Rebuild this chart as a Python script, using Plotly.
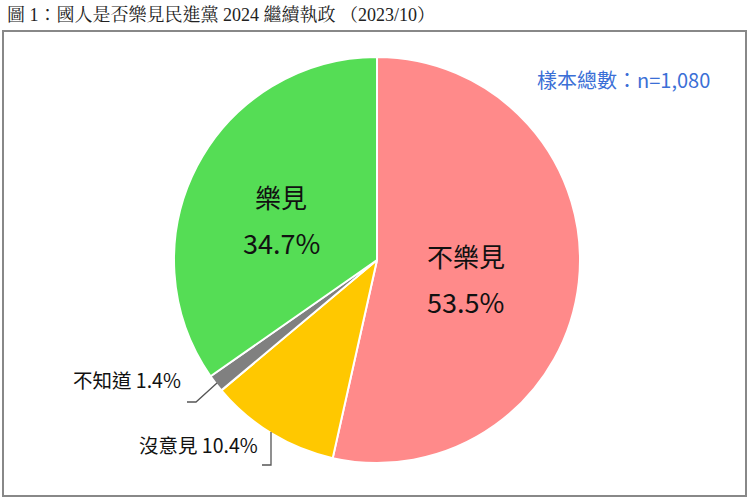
import plotly.graph_objects as go

# 國人是否樂見民進黨 2024 繼續執政 (2023/10)
labels = ['不樂見', '沒意見', '不知道', '樂見']
values = [53.5, 10.4, 1.4, 34.7]
colors = ['#FF8A8A', '#FFC800', '#808080', '#55DD55']
sample_n = '1,080'

W, H = 750, 498
font_cjk = 'Noto Sans CJK TC, Noto Sans, sans-serif'

fig = go.Figure()
fig.add_trace(go.Pie(
    labels=labels,
    values=values,
    sort=False,
    direction='clockwise',
    marker=dict(colors=colors, line=dict(color='white', width=2)),
    textinfo='none',
    hoverinfo='label+percent',
    showlegend=False,
    domain=dict(x=[174 / W, 580 / W], y=[1 - 463 / H, 1 - 57 / H]),
))

# labels
def pct(v):
    return f'{v:.1f}%'

big = {'不樂見': (466, 256, 301), '樂見': (281, 196, 242)}
for lab, v in zip(labels, values):
    if lab in big:
        x, y1, y2 = big[lab]
        fig.add_annotation(x=x / W, y=1 - y1 / H, xref='paper', yref='paper', text=lab,
                           showarrow=False, font=dict(size=26, color='#111111', family=font_cjk))
        fig.add_annotation(x=x / W, y=1 - y2 / H, xref='paper', yref='paper', text=pct(v),
                           showarrow=False, font=dict(size=27, color='#111111', family=font_cjk))

small = {'不知道': (183, 396), '沒意見': (260, 461)}
for lab, v in zip(labels, values):
    if lab in small:
        x, y = small[lab]
        fig.add_annotation(x=x / W, y=1 - y / H, xref='paper', yref='paper', text=f'{lab} {pct(v)}',
                           xanchor='right', showarrow=False,
                           font=dict(size=19.5, color='#111111', family=font_cjk))

# leader lines
leader = [
    'M 187 402 L 196 402 L 217 383',
    'M 262 465 L 271 465 L 271 432',
]
for p in leader:
    fig.add_shape(type='path', path=p, xref='x', yref='y',
                  line=dict(color='#555555', width=1.3))

# frame
fig.add_shape(type='rect', x0=3, y0=31, x1=746, y1=496, xref='x', yref='y',
              line=dict(color='#888888', width=2))

# title and sample size
fig.add_annotation(x=5 / W, y=1 - 3 / H, xref='paper', yref='paper', xanchor='left', yanchor='top',
                   text='圖 1：國人是否樂見民進黨 2024 繼續執政 （2023/10）', showarrow=False,
                   font=dict(size=18, color='#222222', family='Liberation Serif, Noto Serif CJK TC, ' + font_cjk))
fig.add_annotation(x=712 / W, y=1 - 63 / H, xref='paper', yref='paper', xanchor='right',
                   text=f'樣本總數：n={sample_n}', showarrow=False,
                   font=dict(size=20, color='#3B6FD6', family=font_cjk))

fig.update_xaxes(range=[0, W], visible=False, fixedrange=True)
fig.update_yaxes(range=[H, 0], visible=False, fixedrange=True)
fig.update_layout(
    width=W, height=H,
    margin=dict(l=0, r=0, t=0, b=0),
    paper_bgcolor='white',
    plot_bgcolor='rgba(0,0,0,0)',
)
fig.write_html('out.html', config={'displayModeBar': False},
               post_script="document.body.style.margin='0';document.body.style.overflow='hidden';")
